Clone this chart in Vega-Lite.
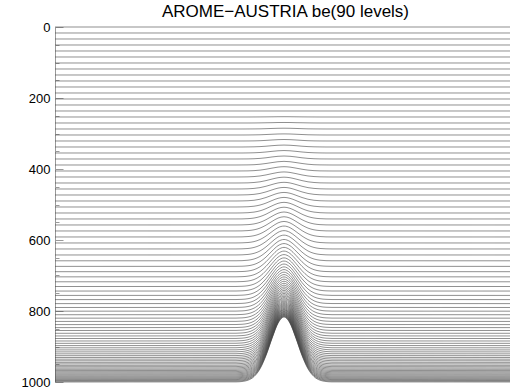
{
"$schema": "https://vega.github.io/schema/vega-lite/v6.json",
"width": 455, "height": 355,
"autosize": {"type": "none"},
"padding": {"left": 55, "top": 27, "right": 0, "bottom": 6},
"background": "white",
"title": {"text": "AROME−AUSTRIA be(90 levels)", "font": "Liberation Sans", "fontSize": 17, "fontWeight": "normal", "color": "#000", "anchor": "middle", "frame": "group", "baseline": "alphabetic", "offset": 6, "dy": 19, "dx": 3},
"config": {"view": {"stroke": null}},
"data": {"values": [
{"k":0,"x":[0,455],"p":[0,0]},
{"k":1,"x":[0,455],"p":[16.9,16.9]},
{"k":2,"x":[0,455],"p":[33.8,33.8]},
{"k":3,"x":[0,455],"p":[50.7,50.7]},
{"k":4,"x":[0,455],"p":[67.6,67.6]},
{"k":5,"x":[0,455],"p":[84.5,84.5]},
{"k":6,"x":[0,455],"p":[101.4,101.4]},
{"k":7,"x":[0,455],"p":[118.3,118.3]},
{"k":8,"x":[0,455],"p":[135.2,135.2]},
{"k":9,"x":[0,455],"p":[152.1,152.1]},
{"k":10,"x":[0,455],"p":[169,169]},
{"k":11,"x":[0,455],"p":[185.9,185.9]},
{"k":12,"x":[0,455],"p":[202.8,202.8]},
{"k":13,"x":[0,455],"p":[219.7,219.7]},
{"k":14,"x":[0,455],"p":[236.6,236.6]},
{"k":15,"x":[0,181,187,193,199,205,211,217,223,229,235,241,247,253,259,265,271,277,455],"p":[253.5,253.5,253.5,253.5,253.4,253.3,253.2,253.0,252.8,252.7,252.8,253.0,253.2,253.3,253.4,253.5,253.5,253.5,253.5]},
{"k":16,"x":[0,181,187,193,199,205,211,217,223,229,235,241,247,253,259,265,271,277,455],"p":[270.4,270.4,270.4,270.4,270.3,270.1,269.8,269.5,269.1,269.0,269.1,269.5,269.8,270.1,270.3,270.4,270.4,270.4,270.4]},
{"k":17,"x":[0,181,187,193,199,205,211,217,223,229,235,241,247,253,259,265,271,277,455],"p":[287.3,287.3,287.3,287.2,287.1,286.9,286.4,285.8,285.3,285.1,285.3,285.8,286.4,286.9,287.1,287.2,287.3,287.3,287.3]},
{"k":18,"x":[0,181,187,193,199,205,211,217,223,229,235,241,247,253,259,265,271,277,455],"p":[304.2,304.2,304.2,304.1,303.9,303.6,302.9,302.1,301.4,301.1,301.4,302.1,302.9,303.6,303.9,304.1,304.2,304.2,304.2]},
{"k":19,"x":[0,181,187,193,199,205,211,217,223,229,235,241,247,253,259,265,271,277,455],"p":[321.1,321.1,321.1,321.0,320.8,320.3,319.4,318.3,317.3,316.9,317.3,318.3,319.4,320.3,320.8,321.0,321.1,321.1,321.1]},
{"k":20,"x":[0,181,187,193,199,205,211,217,223,229,235,241,247,253,259,265,271,277,455],"p":[338,338,338,337.8,337.5,336.9,335.8,334.3,333.1,332.6,333.1,334.3,335.8,336.9,337.5,337.8,338,338,338]},
{"k":21,"x":[0,181,187,193,199,205,211,217,223,229,235,241,247,253,259,265,271,277,455],"p":[354.9,354.9,354.9,354.7,354.3,353.5,352.1,350.3,348.7,348.0,348.7,350.3,352.1,353.5,354.3,354.7,354.9,354.9,354.9]},
{"k":22,"x":[0,181,187,193,199,205,211,217,223,229,235,241,247,253,259,265,271,277,455],"p":[371.8,371.8,371.7,371.6,371.1,370.1,368.4,366.1,364.2,363.4,364.2,366.1,368.4,370.1,371.1,371.6,371.7,371.8,371.8]},
{"k":23,"x":[0,181,187,193,199,205,211,217,223,229,235,241,247,253,259,265,271,277,455],"p":[388.7,388.7,388.6,388.4,387.9,386.6,384.5,381.9,379.5,378.5,379.5,381.9,384.5,386.6,387.9,388.4,388.6,388.7,388.7]},
{"k":24,"x":[0,181,187,193,199,205,211,217,223,229,235,241,247,253,259,265,271,277,455],"p":[405.6,405.6,405.5,405.3,404.6,403.2,400.7,397.5,394.7,393.5,394.7,397.5,400.7,403.2,404.6,405.3,405.5,405.6,405.6]},
{"k":25,"x":[0,181,187,193,199,205,211,217,223,229,235,241,247,253,259,265,271,277,455],"p":[422.5,422.5,422.4,422.1,421.3,419.6,416.7,413.0,409.7,408.3,409.7,413.0,416.7,419.6,421.3,422.1,422.4,422.5,422.5]},
{"k":26,"x":[0,181,187,193,199,205,211,217,223,229,235,241,247,253,259,265,271,277,455],"p":[439.4,439.4,439.3,439.0,438.0,436.1,432.7,428.4,424.6,423.0,424.6,428.4,432.7,436.1,438.0,439.0,439.3,439.4,439.4]},
{"k":27,"x":[0,181,187,193,199,205,211,217,223,229,235,241,247,253,259,265,271,277,455],"p":[456.3,456.3,456.2,455.8,454.7,452.5,448.6,443.7,439.3,437.5,439.3,443.7,448.6,452.5,454.7,455.8,456.2,456.3,456.3]},
{"k":28,"x":[0,181,187,193,199,205,211,217,223,229,235,241,247,253,259,265,271,277,455],"p":[473.2,473.2,473.0,472.6,471.4,468.9,464.5,458.9,453.9,451.9,453.9,458.9,464.5,468.9,471.4,472.6,473.0,473.2,473.2]},
{"k":29,"x":[0,181,187,193,199,205,211,217,223,229,235,241,247,253,259,265,271,277,455],"p":[490.1,490.1,489.9,489.4,488.1,485.2,480.3,474.0,468.3,466.0,468.3,474.0,480.3,485.2,488.1,489.4,489.9,490.1,490.1]},
{"k":30,"x":[0,181,187,193,199,205,211,217,223,229,235,241,247,253,259,265,271,277,455],"p":[507,507,506.8,506.3,504.8,501.5,496.0,488.9,482.6,480.0,482.6,488.9,496.0,501.5,504.8,506.3,506.8,507,507]},
{"k":31,"x":[0,181,187,193,199,205,211,217,223,229,235,241,247,253,259,265,271,277,455],"p":[523.9,523.9,523.7,523.1,521.4,517.8,511.7,503.8,496.7,493.9,496.7,503.8,511.7,517.8,521.4,523.1,523.7,523.9,523.9]},
{"k":32,"x":[0,181,187,193,199,205,211,217,223,229,235,241,247,253,259,265,271,277,455],"p":[540.8,540.7,540.6,539.9,538.1,534.1,527.3,518.5,510.7,507.6,510.7,518.5,527.3,534.1,538.1,539.9,540.6,540.7,540.8]},
{"k":33,"x":[0,181,187,193,199,205,211,217,223,229,235,241,247,253,259,265,271,277,455],"p":[557.7,557.6,557.4,556.7,554.7,550.3,542.8,533.2,524.6,521.1,524.6,533.2,542.8,550.3,554.7,556.7,557.4,557.6,557.7]},
{"k":34,"x":[0,181,187,193,199,205,211,217,223,229,235,241,247,253,259,265,271,277,455],"p":[574.6,574.5,574.3,573.5,571.3,566.5,558.2,547.7,538.3,534.5,538.3,547.7,558.2,566.5,571.3,573.5,574.3,574.5,574.6]},
{"k":35,"x":[0,181,187,193,199,205,211,217,223,229,235,241,247,253,259,265,271,277,455],"p":[591.5,591.4,591.2,590.3,587.9,582.6,573.6,562.1,551.8,547.7,551.8,562.1,573.6,582.6,587.9,590.3,591.2,591.4,591.5]},
{"k":36,"x":[0,181,187,193,199,205,211,217,223,229,235,241,247,253,259,265,271,277,455],"p":[608.4,608.3,608.0,607.1,604.5,598.7,588.9,576.4,565.2,560.7,565.2,576.4,588.9,598.7,604.5,607.1,608.0,608.3,608.4]},
{"k":37,"x":[0,181,187,193,199,205,211,217,223,229,235,241,247,253,259,265,271,277,455],"p":[625.3,625.2,624.9,623.9,621.0,614.8,604.2,590.6,578.5,573.6,578.5,590.6,604.2,614.8,621.0,623.9,624.9,625.2,625.3]},
{"k":38,"x":[0,181,187,193,199,205,211,217,223,229,235,241,247,253,259,265,271,277,455],"p":[642.2,642.1,641.8,640.7,637.6,630.9,619.4,604.7,591.6,586.3,591.6,604.7,619.4,630.9,637.6,640.7,641.8,642.1,642.2]},
{"k":39,"x":[0,181,187,193,199,205,211,217,223,229,235,241,247,253,259,265,271,277,455],"p":[658.6,658.5,658.2,656.9,653.6,646.4,634.1,618.3,604.2,598.5,604.2,618.3,634.1,646.4,653.6,656.9,658.2,658.5,658.6]},
{"k":40,"x":[0,181,187,193,199,205,211,217,223,229,235,241,247,253,259,265,271,277,455],"p":[674.3,674.2,673.8,672.5,669.0,661.2,648.1,631.1,616.1,610.0,616.1,631.1,648.1,661.2,669.0,672.5,673.8,674.2,674.3]},
{"k":41,"x":[0,181,187,193,199,205,211,217,223,229,235,241,247,253,259,265,271,277,455],"p":[689.3,689.2,688.8,687.4,683.6,675.4,661.4,643.4,627.3,620.8,627.3,643.4,661.4,675.4,683.6,687.4,688.8,689.2,689.3]},
{"k":42,"x":[0,181,187,193,199,205,211,217,223,229,235,241,247,253,259,265,271,277,455],"p":[703.8,703.7,703.3,701.8,697.8,689.1,674.2,655.1,638.1,631.2,638.1,655.1,674.2,689.1,697.8,701.8,703.3,703.7,703.8]},
{"k":43,"x":[0,181,187,193,199,205,211,217,223,229,235,241,247,253,259,265,271,277,455],"p":[717.7,717.6,717.1,715.6,711.4,702.1,686.4,666.3,648.3,641.1,648.3,666.3,686.4,702.1,711.4,715.6,717.1,717.6,717.7]},
{"k":44,"x":[0,181,187,193,199,205,211,217,223,229,235,241,247,253,259,265,271,277,455],"p":[731.0,730.9,730.4,728.8,724.3,714.6,698.1,676.9,658.0,650.4,658.0,676.9,698.1,714.6,724.3,728.8,730.4,730.9,731.0]},
{"k":45,"x":[0,181,187,193,199,205,211,217,223,229,235,241,247,253,259,265,271,277,455],"p":[743.8,743.7,743.2,741.5,736.8,726.6,709.3,687.1,667.3,659.2,667.3,687.1,709.3,726.6,736.8,741.5,743.2,743.7,743.8]},
{"k":46,"x":[0,181,187,193,199,205,211,217,223,229,235,241,247,253,259,265,271,277,455],"p":[756.1,756.0,755.4,753.7,748.8,738.2,720.0,696.8,676.1,667.7,676.1,696.8,720.0,738.2,748.8,753.7,755.4,756.0,756.1]},
{"k":47,"x":[0,181,187,193,199,205,211,217,223,229,235,241,247,253,259,265,271,277,455],"p":[767.9,767.7,767.2,765.4,760.3,749.2,730.3,706.0,684.4,675.7,684.4,706.0,730.3,749.2,760.3,765.4,767.2,767.7,767.9]},
{"k":48,"x":[0,181,187,193,199,205,211,217,223,229,235,241,247,253,259,265,271,277,455],"p":[779.2,779.0,778.5,776.6,771.3,759.7,740.1,714.8,692.4,683.3,692.4,714.8,740.1,759.7,771.3,776.6,778.5,779.0,779.2]},
{"k":49,"x":[0,181,187,193,199,205,211,217,223,229,235,241,247,253,259,265,271,277,455],"p":[790.1,789.9,789.4,787.4,781.9,769.9,749.5,723.3,700.0,690.5,700.0,723.3,749.5,769.9,781.9,787.4,789.4,789.9,790.1]},
{"k":50,"x":[0,181,187,193,199,205,211,217,223,229,235,241,247,253,259,265,271,277,455],"p":[800.5,800.3,799.7,797.7,792.0,779.6,758.4,731.3,707.2,697.4,707.2,731.3,758.4,779.6,792.0,797.7,799.7,800.3,800.5]},
{"k":51,"x":[0,181,187,193,199,205,211,217,223,229,235,241,247,253,259,265,271,277,455],"p":[810.5,810.3,809.7,807.6,801.7,788.9,767.0,739.0,714.1,703.9,714.1,739.0,767.0,788.9,801.7,807.6,809.7,810.3,810.5]},
{"k":52,"x":[0,181,187,193,199,205,211,217,223,229,235,241,247,253,259,265,271,277,455],"p":[820.2,820.0,819.4,817.2,811.1,797.9,775.3,746.4,720.7,710.2,720.7,746.4,775.3,797.9,811.1,817.2,819.4,820.0,820.2]},
{"k":53,"x":[0,181,187,193,199,205,211,217,223,229,235,241,247,253,259,265,271,277,455],"p":[829.4,829.2,828.5,826.3,820.0,806.4,783.2,753.4,726.9,716.1,726.9,753.4,783.2,806.4,820.0,826.3,828.5,829.2,829.4]},
{"k":54,"x":[0,181,187,193,199,205,211,217,223,229,235,241,247,253,259,265,271,277,455],"p":[838.3,838.1,837.4,835.1,828.7,814.6,790.8,760.1,732.9,721.8,732.9,760.1,790.8,814.6,828.7,835.1,837.4,838.1,838.3]},
{"k":55,"x":[0,181,187,193,199,205,211,217,223,229,235,241,247,253,259,265,271,277,455],"p":[846.8,846.6,845.9,843.5,836.9,822.5,798.0,766.5,738.5,727.2,738.5,766.5,798.0,822.5,836.9,843.5,845.9,846.6,846.8]},
{"k":56,"x":[0,181,187,193,199,205,211,217,223,229,235,241,247,253,259,265,271,277,455],"p":[854.9,854.7,854.0,851.5,844.8,830.0,804.9,772.6,743.9,732.3,743.9,772.6,804.9,830.0,844.8,851.5,854.0,854.7,854.9]},
{"k":57,"x":[0,181,187,193,199,205,211,217,223,229,235,241,247,253,259,265,271,277,455],"p":[862.8,862.6,861.9,859.3,852.4,837.3,811.6,778.5,749.1,737.2,749.1,778.5,811.6,837.3,852.4,859.3,861.9,862.6,862.8]},
{"k":58,"x":[0,181,187,193,199,205,211,217,223,229,235,241,247,253,259,265,271,277,455],"p":[870.3,870.1,869.3,866.8,859.7,844.2,817.9,784.1,754.0,741.8,754.0,784.1,817.9,844.2,859.7,866.8,869.3,870.1,870.3]},
{"k":59,"x":[0,181,187,193,199,205,211,217,223,229,235,241,247,253,259,265,271,277,455],"p":[877.5,877.3,876.5,873.9,866.7,850.9,824.0,789.4,758.7,746.3,758.7,789.4,824.0,850.9,866.7,873.9,876.5,877.3,877.5]},
{"k":60,"x":[0,181,187,193,199,205,211,217,223,229,235,241,247,253,259,265,271,277,455],"p":[884.5,884.3,883.5,880.8,873.4,857.3,829.8,794.6,763.3,750.5,763.3,794.6,829.8,857.3,873.4,880.8,883.5,884.3,884.5]},
{"k":61,"x":[0,181,187,193,199,205,211,217,223,229,235,241,247,253,259,265,271,277,455],"p":[891.1,890.9,890.1,887.3,879.8,863.4,835.4,799.5,767.5,754.5,767.5,799.5,835.4,863.4,879.8,887.3,890.1,890.9,891.1]},
{"k":62,"x":[0,181,187,193,199,205,211,217,223,229,235,241,247,253,259,265,271,277,455],"p":[897.5,897.3,896.4,893.7,886.0,869.3,840.7,804.2,771.6,758.4,771.6,804.2,840.7,869.3,886.0,893.7,896.4,897.3,897.5]},
{"k":63,"x":[0,181,187,193,199,205,211,217,223,229,235,241,247,253,259,265,271,277,455],"p":[903.7,903.5,902.6,899.8,892.0,875.0,845.9,808.7,775.6,762.1,775.6,808.7,845.9,875.0,892.0,899.8,902.6,903.5,903.7]},
{"k":64,"x":[0,181,187,193,199,205,211,217,223,229,235,241,247,253,259,265,271,277,455],"p":[909.6,909.4,908.5,905.6,897.7,880.4,850.9,813.0,779.3,765.6,779.3,813.0,850.9,880.4,897.7,905.6,908.5,909.4,909.6]},
{"k":65,"x":[0,181,187,193,199,205,211,217,223,229,235,241,247,253,259,265,271,277,455],"p":[915.2,915.0,914.1,911.2,903.1,885.5,855.5,817.1,782.8,768.9,782.8,817.1,855.5,885.5,903.1,911.2,914.1,915.0,915.2]},
{"k":66,"x":[0,181,187,193,199,205,211,217,223,229,235,241,247,253,259,265,271,277,455],"p":[920.7,920.4,919.6,916.6,908.4,890.6,860.1,821.0,786.3,772.2,786.3,821.0,860.1,890.6,908.4,916.6,919.6,920.4,920.7]},
{"k":67,"x":[0,181,187,193,199,205,211,217,223,229,235,241,247,253,259,265,271,277,455],"p":[925.9,925.6,924.8,921.7,913.4,895.3,864.4,824.8,789.5,775.2,789.5,824.8,864.4,895.3,913.4,921.7,924.8,925.6,925.9]},
{"k":68,"x":[0,181,187,193,199,205,211,217,223,229,235,241,247,253,259,265,271,277,455],"p":[930.9,930.6,929.8,926.7,918.3,899.9,868.6,828.4,792.7,778.2,792.7,828.4,868.6,899.9,918.3,926.7,929.8,930.6,930.9]},
{"k":69,"x":[0,181,187,193,199,205,211,217,223,229,235,241,247,253,259,265,271,277,455],"p":[935.7,935.4,934.5,931.4,922.9,904.3,872.6,831.9,795.6,780.9,795.6,831.9,872.6,904.3,922.9,931.4,934.5,935.4,935.7]},
{"k":70,"x":[0,181,187,193,199,205,211,217,223,229,235,241,247,253,259,265,271,277,455],"p":[940.3,940.0,939.1,936.0,927.3,908.5,876.4,835.1,798.5,783.6,798.5,835.1,876.4,908.5,927.3,936.0,939.1,940.0,940.3]},
{"k":71,"x":[0,181,187,193,199,205,211,217,223,229,235,241,247,253,259,265,271,277,455],"p":[944.7,944.4,943.5,940.3,931.6,912.5,880.0,838.3,801.2,786.1,801.2,838.3,880.0,912.5,931.6,940.3,943.5,944.4,944.7]},
{"k":72,"x":[0,181,187,193,199,205,211,217,223,229,235,241,247,253,259,265,271,277,455],"p":[949.0,948.7,947.8,944.6,935.7,916.4,883.6,841.4,803.8,788.6,803.8,841.4,883.6,916.4,935.7,944.6,947.8,948.7,949.0]},
{"k":73,"x":[0,181,187,193,199,205,211,217,223,229,235,241,247,253,259,265,271,277,455],"p":[953.1,952.8,951.9,948.6,939.7,920.2,886.9,844.3,806.3,790.9,806.3,844.3,886.9,920.2,939.7,948.6,951.9,952.8,953.1]},
{"k":74,"x":[0,181,187,193,199,205,211,217,223,229,235,241,247,253,259,265,271,277,455],"p":[957.0,956.7,955.8,952.5,943.4,923.7,890.1,847.0,808.7,793.1,808.7,847.0,890.1,923.7,943.4,952.5,955.8,956.7,957.0]},
{"k":75,"x":[0,181,187,193,199,205,211,217,223,229,235,241,247,253,259,265,271,277,455],"p":[960.7,960.4,959.5,956.1,947.0,927.1,893.2,849.7,811.0,795.2,811.0,849.7,893.2,927.1,947.0,956.1,959.5,960.4,960.7]},
{"k":76,"x":[0,181,187,193,199,205,211,217,223,229,235,241,247,253,259,265,271,277,455],"p":[964.3,964.0,963.0,959.7,950.5,930.4,896.2,852.2,813.1,797.3,813.1,852.2,896.2,930.4,950.5,959.7,963.0,964.0,964.3]},
{"k":77,"x":[0,181,187,193,199,205,211,217,223,229,235,241,247,253,259,265,271,277,455],"p":[967.8,967.5,966.5,963.2,953.9,933.6,899.0,854.7,815.2,799.2,815.2,854.7,899.0,933.6,953.9,963.2,966.5,967.5,967.8]},
{"k":78,"x":[0,181,187,193,199,205,211,217,223,229,235,241,247,253,259,265,271,277,455],"p":[971.1,970.8,969.8,966.4,957.0,936.6,901.7,857.0,817.2,801.1,817.2,857.0,901.7,936.6,957.0,966.4,969.8,970.8,971.1]},
{"k":79,"x":[0,181,187,193,199,205,211,217,223,229,235,241,247,253,259,265,271,277,455],"p":[974.3,974.0,973.0,969.6,960.1,939.5,904.4,859.3,819.2,802.9,819.2,859.3,904.4,939.5,960.1,969.6,973.0,974.0,974.3]},
{"k":80,"x":[0,181,187,193,199,205,211,217,223,229,235,241,247,253,259,265,271,277,455],"p":[977.4,977.1,976.1,972.6,963.1,942.3,906.9,861.4,821.0,804.6,821.0,861.4,906.9,942.3,963.1,972.6,976.1,977.1,977.4]},
{"k":81,"x":[0,181,187,193,199,205,211,217,223,229,235,241,247,253,259,265,271,277,455],"p":[980.3,980.0,979.0,975.5,965.9,945.0,909.3,863.5,822.7,806.2,822.7,863.5,909.3,945.0,965.9,975.5,979.0,980.0,980.3]},
{"k":82,"x":[0,181,187,193,199,205,211,217,223,229,235,241,247,253,259,265,271,277,455],"p":[983.2,982.9,981.9,978.4,968.7,947.6,911.6,865.5,824.5,807.8,824.5,865.5,911.6,947.6,968.7,978.4,981.9,982.9,983.2]},
{"k":83,"x":[0,181,187,193,199,205,211,217,223,229,235,241,247,253,259,265,271,277,455],"p":[985.9,985.6,984.6,981.0,971.3,950.1,913.8,867.4,826.1,809.3,826.1,867.4,913.8,950.1,971.3,981.0,984.6,985.6,985.9]},
{"k":84,"x":[0,181,187,193,199,205,211,217,223,229,235,241,247,253,259,265,271,277,455],"p":[988.5,988.2,987.2,983.6,973.8,952.4,916.0,869.2,827.6,810.7,827.6,869.2,916.0,952.4,973.8,983.6,987.2,988.2,988.5]},
{"k":85,"x":[0,181,187,193,199,205,211,217,223,229,235,241,247,253,259,265,271,277,455],"p":[991.0,990.7,989.6,986.1,976.2,954.7,918.0,871.0,829.1,812.1,829.1,871.0,918.0,954.7,976.2,986.1,989.6,990.7,991.0]},
{"k":86,"x":[0,181,187,193,199,205,211,217,223,229,235,241,247,253,259,265,271,277,455],"p":[993.4,993.1,992.0,988.4,978.5,956.9,920.0,872.6,830.5,813.4,830.5,872.6,920.0,956.9,978.5,988.4,992.0,993.1,993.4]},
{"k":87,"x":[0,181,187,193,199,205,211,217,223,229,235,241,247,253,259,265,271,277,455],"p":[995.7,995.4,994.3,990.7,980.7,959.0,921.8,874.2,831.9,814.7,831.9,874.2,921.8,959.0,980.7,990.7,994.3,995.4,995.7]},
{"k":88,"x":[0,181,187,193,199,205,211,217,223,229,235,241,247,253,259,265,271,277,455],"p":[997.9,997.6,996.5,992.9,982.8,961.0,923.6,875.8,833.2,815.9,833.2,875.8,923.6,961.0,982.8,992.9,996.5,997.6,997.9]},
{"k":89,"x":[0,181,187,193,199,205,211,217,223,229,235,241,247,253,259,265,271,277,455],"p":[1000,999.7,998.6,995.0,984.9,962.9,925.3,877.2,834.4,817.0,834.4,877.2,925.3,962.9,984.9,995.0,998.6,999.7,1000]}
]},
"transform": [{"flatten": ["x", "p"]}],
"mark": {"type": "line", "interpolate": "monotone", "color": "#444", "strokeWidth": 0.6},
"encoding": {
  "x": {"field": "x", "type": "quantitative", "scale": {"domain": [0, 455], "nice": false, "zero": false}, "axis": null},
  "y": {"field": "p", "type": "quantitative", "scale": {"domain": [0, 1000], "reverse": true, "nice": false, "zero": false},
        "axis": {"title": null, "grid": false, "values": [0,50,100,150,200,250,300,350,400,450,500,550,600,650,700,750,800,850,900,950,1000],
                 "format": "d", "labelExpr": "datum.value % 200 === 0 ? datum.label : ''",
                 "tickSize": {"condition": {"test": "datum.value % 200 === 0", "value": -8}, "value": -4},
                 "tickColor": "#999", "tickWidth": 1, "domainColor": "#999", "domainWidth": 1,
                 "labelFont": "Liberation Sans", "labelFontSize": 13, "labelColor": "#000", "labelPadding": 13,
                 "labelOverlap": false, "labelFlush": false}},
  "detail": {"field": "k", "type": "nominal"}
}
}
